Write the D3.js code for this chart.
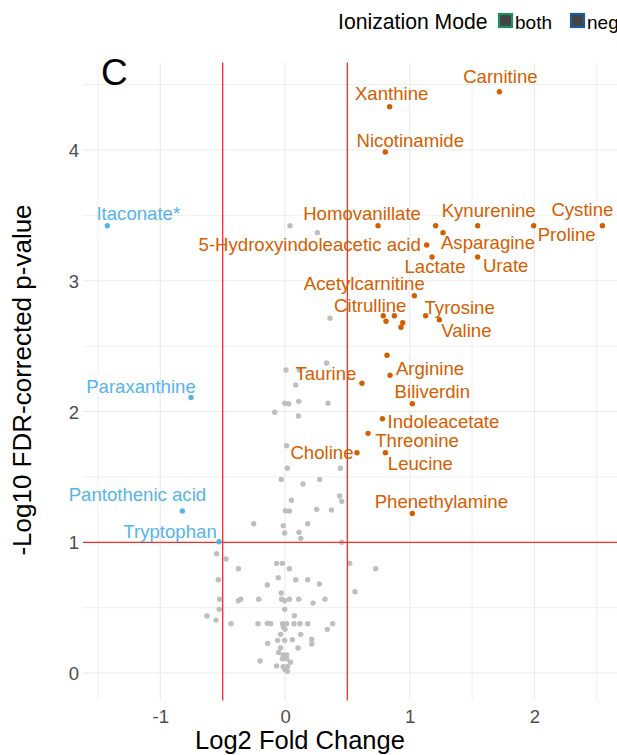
<!DOCTYPE html>
<html>
<head>
<meta charset="utf-8">
<script src="https://cdn.jsdelivr.net/npm/d3@7"></script>
<style>
  body { margin: 0; background: #fff; }
  svg { display: block; font-family: "Liberation Sans", Arial, sans-serif; }
</style>
</head>
<body>
<svg id="chart" width="617" height="755"></svg>
<script>
// ---------- DATA ----------
const xTicks = [-1, 0, 1, 2];
const xMinor = [-1.5, -0.5, 0.5, 1.5, 2.5];
const yTicks = [0, 1, 2, 3, 4];
const yMinor = [0.5, 1.5, 2.5, 3.5, 4.5];
const fcCutoffs = [-0.5, 0.5];
const pCutoff = 1;

// non-significant metabolites (grey)
const grayX = [0.040,0.259,0.361,0.334,0.008,0.115,0.086,-0.003,0.029,0.110,0.345,-0.083,0.107,0.013,0.019,0.444,-0.030,0.144,0.278,0.438,0.455,0.051,0.003,0.035,0.254,0.372,-0.251,-0.014,0.182,-0.003,0.112,0.126,0.455,
  -0.548,-0.473,-0.374,-0.067,-0.021,0.035,0.519,0.727,-0.535,-0.142,-0.054,0.086,0.182,0.275,0.561,-0.030,-0.524,-0.374,-0.355,-0.211,-0.027,-0.003,0.035,0.110,0.225,0.321,-0.527,-0.003,-0.626,-0.553,-0.433,-0.217,-0.142,-0.115,-0.019,0.013,-0.014,0.000,0.075,0.072,0.120,0.182,0.382,0.339,-0.035,0.126,-0.059,-0.003,0.059,0.214,0.214,-0.139,0.104,-0.035,-0.051,-0.014,0.013,-0.021,0.013,-0.200,0.043,-0.067,-0.014,0.019,0.000,0.019];
const grayY = [3.421,3.368,2.713,2.371,2.317,2.317,2.203,2.063,2.060,2.078,2.063,1.994,1.966,1.739,1.566,1.566,1.481,1.446,1.481,1.354,1.313,1.321,1.241,1.239,1.252,1.247,1.142,1.127,1.142,1.071,1.076,1.030,1.000,
  0.913,0.872,0.798,0.839,0.839,0.798,0.839,0.798,0.714,0.673,0.729,0.714,0.714,0.681,0.622,0.612,0.564,0.553,0.564,0.564,0.564,0.553,0.564,0.564,0.535,0.564,0.487,0.487,0.436,0.405,0.377,0.377,0.380,0.377,0.377,0.377,0.354,0.334,0.438,0.377,0.377,0.377,0.377,0.334,0.296,0.296,0.250,0.250,0.255,0.258,0.222,0.227,0.191,0.191,0.158,0.138,0.138,0.109,0.109,0.092,0.082,0.054,0.048,0.048,0.028,0.013];

// significant metabolites
const sigNames = ["Carnitine","Xanthine","Nicotinamide","Homovanillate","","Asparagine","Kynurenine","Proline","Cystine",
  "5-Hydroxyindoleacetic acid","Lactate","Urate","Acetylcarnitine","Citrulline","","","","","Tyrosine","Valine","",
  "Arginine","Taurine","Biliverdin","Indoleacetate","Threonine","Choline","Leucine","Phenethylamine",
  "Itaconate*","Paraxanthine","Pantothenic acid","Tryptophan"];
const sigX = [1.719,0.839,0.804,0.746,1.208,1.267,1.545,1.994,2.545,
  1.136,1.179,1.545,1.037,0.788,0.877,0.810,0.944,0.930,1.128,1.238,0.818,
  0.842,0.617,1.021,0.781,0.666,0.577,0.805,1.021,
  -1.425,-0.754,-0.823,-0.529];
const sigY = [4.446,4.331,3.985,3.421,3.421,3.368,3.421,3.421,3.421,
  3.273,3.182,3.182,2.885,2.733,2.733,2.690,2.679,2.644,2.733,2.702,2.430,
  2.277,2.216,2.060,1.945,1.833,1.685,1.685,1.221,
  3.421,2.108,1.239,1.004];
const sigDir = ["up","up","up","up","up","up","up","up","up",
  "up","up","up","up","up","up","up","up","up","up","up","up",
  "up","up","up","up","up","up","up","up",
  "down","down","down","down"];

const legendTitle = "Ionization Mode";
const legendLabels = ["both", "neg"];

// ---------- LABEL PLACEMENT (pixel offsets from the point, like ggrepel) ----------
const labelOffset = {
  "Carnitine": [1, -15], "Xanthine": [2, -13], "Nicotinamide": [25, -11],
  "Homovanillate": [-16, -12], "Kynurenine": [11, -15], "Cystine": [-20, -16],
  "Proline": [33, 9], "Asparagine": [45, 10], "5-Hydroxyindoleacetic acid": [-117, -1],
  "Lactate": [3, 10], "Urate": [28, 9], "Acetylcarnitine": [-50, -12],
  "Citrulline": [-13, -10], "Tyrosine": [34, -8], "Valine": [27, 11],
  "Taurine": [-36, -10], "Arginine": [40, -7], "Biliverdin": [20, -12],
  "Indoleacetate": [61, 3], "Threonine": [49, 7], "Choline": [-35, 0],
  "Leucine": [35, 11], "Phenethylamine": [29, -12],
  "Itaconate*": [31, -12], "Paraxanthine": [-50, -11],
  "Pantothenic acid": [-45, -17], "Tryptophan": [-49, -10]
};

// ---------- STYLE ----------
const colUp = "#D55E00", colDown = "#56B4E9", colGray = "#BEBEBE";
const legendBorders = ["#1E8F5E", "#1D5C9C"];
const fontFam = "Liberation Sans, Arial, sans-serif";

const svg = d3.select("#chart");
const x = d3.scaleLinear().domain([-1.62, 2.74]).range([83, 626.7]);
const y = d3.scaleLinear().domain([-0.21, 4.67]).range([700.5, 62.4]);
const [x0, x1] = x.range();
const [y0, y1] = y.range();

// grid
const grid = svg.append("g");
grid.selectAll(".vmin").data(xMinor).join("line")
  .attr("x1", d => x(d)).attr("x2", d => x(d)).attr("y1", y0).attr("y2", y1)
  .attr("stroke", "#EBEBEB").attr("stroke-width", 0.8);
grid.selectAll(".hmin").data(yMinor).join("line")
  .attr("y1", d => y(d)).attr("y2", d => y(d)).attr("x1", x0).attr("x2", x1)
  .attr("stroke", "#EBEBEB").attr("stroke-width", 0.8);
grid.selectAll(".vmaj").data(xTicks).join("line")
  .attr("x1", d => x(d)).attr("x2", d => x(d)).attr("y1", y0).attr("y2", y1)
  .attr("stroke", "#EBEBEB").attr("stroke-width", 1.1);
grid.selectAll(".hmaj").data(yTicks).join("line")
  .attr("y1", d => y(d)).attr("y2", d => y(d)).attr("x1", x0).attr("x2", x1)
  .attr("stroke", "#EBEBEB").attr("stroke-width", 1.1);

// axes (text only, like theme_minimal); ggplot uses a plain hyphen for negatives
const fmt = d => String(d);
const xAxis = d3.axisBottom(x).tickValues(xTicks).tickSize(0).tickPadding(0).tickFormat(fmt);
const gx = svg.append("g").attr("transform", `translate(0,${y0 + 5})`).call(xAxis);
gx.select(".domain").remove();
gx.selectAll("text").attr("font-size", 18.5).attr("fill", "#4D4D4D").attr("dy", "0.95em")
  .style("font-family", fontFam);

const yAxis = d3.axisLeft(y).tickValues(yTicks).tickSize(0).tickPadding(0).tickFormat(fmt);
const gy = svg.append("g").attr("transform", `translate(${x0 - 4},0)`).call(yAxis);
gy.select(".domain").remove();
gy.selectAll("text").attr("font-size", 18.5).attr("fill", "#4D4D4D").attr("dy", "0.35em")
  .style("font-family", fontFam);

// points
const gray = grayX.map((v, i) => ({x: v, y: grayY[i]}));
const sig = sigX.map((v, i) => ({name: sigNames[i], x: v, y: sigY[i], dir: sigDir[i]}));

svg.append("g").selectAll("circle").data(gray).join("circle")
  .attr("cx", d => x(d.x)).attr("cy", d => y(d.y)).attr("r", 2.7).attr("fill", colGray);

// threshold lines
svg.append("g").selectAll("line").data(fcCutoffs).join("line")
  .attr("x1", d => x(d)).attr("x2", d => x(d)).attr("y1", y0).attr("y2", y1)
  .attr("stroke", "#FF2A2A").attr("stroke-width", 1.3);
svg.append("line").attr("x1", x0).attr("x2", x1).attr("y1", y(pCutoff)).attr("y2", y(pCutoff))
  .attr("stroke", "#FF2A2A").attr("stroke-width", 1.3);

svg.append("g").selectAll("circle").data(sig).join("circle")
  .attr("cx", d => x(d.x)).attr("cy", d => y(d.y)).attr("r", 2.7)
  .attr("fill", d => d.dir === "up" ? colUp : colDown);

// labels
svg.append("g").selectAll("text").data(sig.filter(d => d.name && labelOffset[d.name])).join("text")
  .attr("x", d => x(d.x) + labelOffset[d.name][0])
  .attr("y", d => y(d.y) + labelOffset[d.name][1])
  .attr("dy", "0.35em").attr("text-anchor", "middle").attr("font-size", 18.6)
  .attr("fill", d => d.dir === "up" ? colUp : colDown)
  .text(d => d.name);

// panel tag
svg.append("text").attr("x", 101).attr("y", 85).attr("font-size", 37).attr("fill", "#000").text("C");

// axis titles
svg.append("text").attr("x", 300).attr("y", 749).attr("text-anchor", "middle")
  .attr("font-size", 25.5).attr("fill", "#000").text("Log2 Fold Change");
svg.append("text").attr("transform", `translate(31,380) rotate(-90)`).attr("text-anchor", "middle")
  .attr("font-size", 26).attr("fill", "#000").text("-Log10 FDR-corrected p-value");

// legend
const lg = svg.append("g");
lg.append("text").attr("x", 338).attr("y", 29).attr("font-size", 21.2).attr("fill", "#000").text(legendTitle);
const legX = [499, 571];
legendLabels.forEach((lab, i) => {
  lg.append("rect").attr("x", legX[i]).attr("y", 14).attr("width", 13).attr("height", 13)
    .attr("fill", "#444444").attr("stroke", legendBorders[i]).attr("stroke-width", 2.2);
  lg.append("text").attr("x", legX[i] + 16).attr("y", 29).attr("font-size", 19).attr("fill", "#000").text(lab);
});
</script>
</body>
</html>
